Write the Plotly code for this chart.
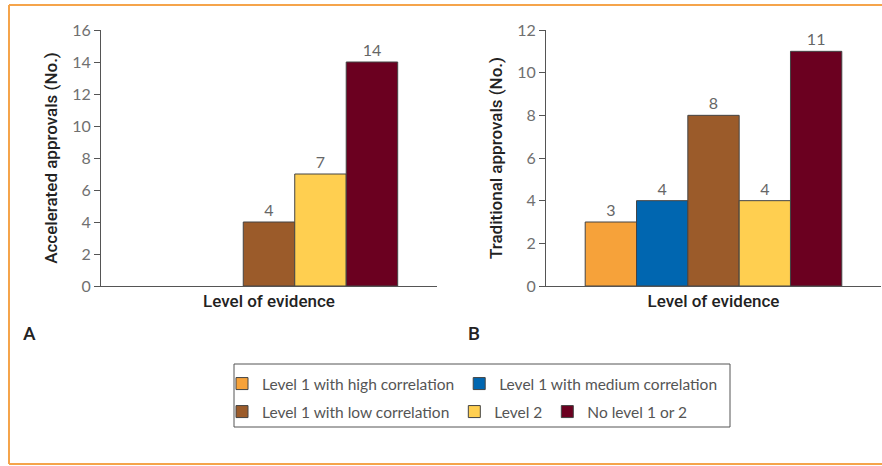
import plotly.graph_objects as go

series = ["Level 1 with high correlation", "Level 1 with medium correlation",
          "Level 1 with low correlation", "Level 2", "No level 1 or 2"]
colors = ["#F6A23A", "#0066B0", "#9B5B2A", "#FFCF50", "#6B0020"]
accelerated = [0, 0, 4, 7, 14]
traditional = [3, 4, 8, 4, 11]
category = ["Level of evidence"]
legend_of = ["legend", "legend", "legend2", "legend2", "legend2"]

W, H = 882, 466
L, R, T, B = 101, 1, 30, 180
pw = W - L - R
ph = H - T - B

def px(x):
    return (x - L) / pw

def py(y):
    return (H - B - y) / ph

label_font = dict(family="Lato", size=16, color="#666666")
fig = go.Figure()
for i, name in enumerate(series):
    va = accelerated[i]
    fig.add_trace(go.Bar(
        x=category, y=[va], name=name, xaxis="x", yaxis="y",
        marker=dict(color=colors[i], line=dict(color="#444444", width=1 if va > 0 else 0)),
        text=[str(va) if va > 0 else ""], textposition="outside",
        textfont=label_font, cliponaxis=False, showlegend=False,
        legendgroup=name, hoverinfo="skip"))
for i, name in enumerate(series):
    vt = traditional[i]
    fig.add_trace(go.Bar(
        x=category, y=[vt], name=name, xaxis="x2", yaxis="y2",
        marker=dict(color=colors[i], line=dict(color="#444444", width=1)),
        text=[str(vt)], textposition="outside",
        textfont=label_font, cliponaxis=False, showlegend=True,
        legend=legend_of[i], legendgroup=name, hoverinfo="skip"))

axis_common = dict(showline=True, linecolor="#555555", linewidth=1,
                   showgrid=False, zeroline=False)
yax = dict(axis_common, ticks="outside", ticklen=6, tickcolor="#555555",
           dtick=2, tickfont=dict(family="Lato", size=16, color="#707070"),
           title_font=dict(family="Roboto", size=17, color="#222222", weight=500),
           title_standoff=10)
xax = dict(axis_common, ticks="", tickfont=dict(family="Roboto", size=17, color="#222222", weight=500))

leg_common = dict(orientation="h", bgcolor="rgba(0,0,0,0)", borderwidth=0,
                  font=dict(family="Lato", size=15.5, color="#555555"),
                  xanchor="left", yanchor="middle")

fig.update_layout(
    width=W, height=H, margin=dict(l=L, r=R, t=T, b=B),
    paper_bgcolor="white", plot_bgcolor="white",
    barmode="group", bargap=0.234, bargroupgap=0,
    xaxis=dict(xax, domain=[0, px(437)], anchor="y"),
    yaxis=dict(yax, range=[0, 16], anchor="x", title_text="Accelerated approvals (No.)"),
    xaxis2=dict(xax, domain=[px(546), 1], anchor="y2"),
    yaxis2=dict(yax, range=[0, 12], anchor="x2", title_text="Traditional approvals (No.)"),
    legend=dict(leg_common, x=px(222), y=py(384)),
    legend2=dict(leg_common, x=px(222), y=py(412)),
    showlegend=True,
)

border = "#F5A44B"
fig.add_shape(type="line", xref="paper", yref="paper", x0=px(9), x1=px(882), y0=py(5), y1=py(5),
              line=dict(color=border, width=2))
fig.add_shape(type="line", xref="paper", yref="paper", x0=px(9), x1=px(9), y0=py(5), y1=py(464),
              line=dict(color=border, width=2))
fig.add_shape(type="line", xref="paper", yref="paper", x0=px(9), x1=px(882), y0=py(464), y1=py(464),
              line=dict(color=border, width=2))
fig.add_shape(type="rect", xref="paper", yref="paper", x0=px(234), x1=px(730), y0=py(427), y1=py(364),
              line=dict(color="#555555", width=1))

for letter, cx in (("A", 29), ("B", 474)):
    fig.add_annotation(text=letter, xref="paper", yref="paper", x=px(cx), y=py(333),
                       showarrow=False, xanchor="center", yanchor="middle",
                       font=dict(family="Roboto", size=19, color="#222222", weight=500))

fig.write_html("out.html", config={"displayModeBar": False},
               post_script="document.body.style.margin='0px';document.body.style.overflow='hidden';")
